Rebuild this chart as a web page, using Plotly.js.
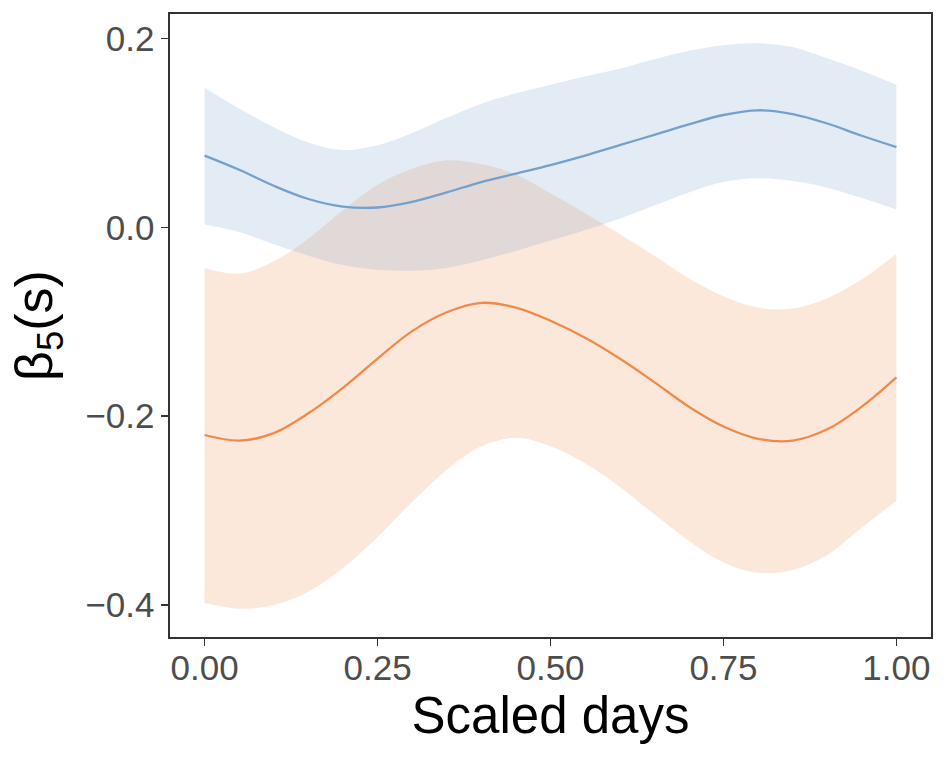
<!DOCTYPE html>
<html>
<head>
<meta charset="utf-8">
<script src="https://cdn.plot.ly/plotly-3.0.1.min.js"></script>
<style>html,body{margin:0;padding:0;background:#fff;}#chart{width:947px;height:757px;}</style>
</head>
<body>
<div id="chart"></div>
<script>
// Scaled days grid
var days = [0, 0.05, 0.1, 0.15, 0.2, 0.25, 0.3, 0.35, 0.4, 0.45, 0.5, 0.55, 0.6, 0.65, 0.7, 0.75, 0.8, 0.85, 0.9, 0.95, 1.0];

// Blue series: estimate and band
var blueMean  = [0.076, 0.061, 0.044, 0.030, 0.022, 0.021, 0.027, 0.037, 0.048, 0.057, 0.066, 0.076, 0.087, 0.098, 0.109, 0.119, 0.124, 0.120, 0.110, 0.097, 0.085];
var blueUpper = [0.148, 0.126, 0.106, 0.090, 0.082, 0.087, 0.100, 0.116, 0.131, 0.142, 0.151, 0.160, 0.168, 0.178, 0.187, 0.193, 0.195, 0.191, 0.179, 0.166, 0.151];
var blueLower = [0.003, -0.005, -0.018, -0.030, -0.040, -0.045, -0.046, -0.043, -0.035, -0.025, -0.014, -0.003, 0.009, 0.023, 0.037, 0.048, 0.052, 0.049, 0.042, 0.031, 0.019];

// Orange series: estimate and band
var orangeMean  = [-0.220, -0.226, -0.218, -0.197, -0.170, -0.139, -0.110, -0.090, -0.080, -0.085, -0.099, -0.117, -0.139, -0.164, -0.190, -0.211, -0.224, -0.226, -0.214, -0.190, -0.159];
var orangeUpper = [-0.043, -0.049, -0.036, -0.012, 0.018, 0.045, 0.062, 0.071, 0.067, 0.056, 0.036, 0.015, -0.007, -0.030, -0.054, -0.073, -0.085, -0.086, -0.075, -0.055, -0.028];
var orangeLower = [-0.398, -0.404, -0.400, -0.386, -0.361, -0.328, -0.291, -0.257, -0.232, -0.223, -0.232, -0.250, -0.275, -0.304, -0.332, -0.355, -0.366, -0.363, -0.347, -0.318, -0.290];

// Tick labels
var xTickVals = [0, 0.25, 0.5, 0.75, 1];
var xTickText = ["0.00", "0.25", "0.50", "0.75", "1.00"];
var yTickVals = [-0.4, -0.2, 0, 0.2];
var yTickText = ["\u22120.4", "\u22120.2", "0.0", "0.2"];

var blueLine = "rgb(116,160,204)";
var blueFill = "rgba(116,160,204,0.2)";
var orangeLine = "rgb(240,138,72)";
var orangeFill = "rgba(240,138,72,0.2)";

var noLine = {width: 0, shape: "spline", smoothing: 1};

var traces = [
  {x: days, y: orangeLower, mode: "lines", line: noLine, hoverinfo: "skip", showlegend: false},
  {x: days, y: orangeUpper, mode: "lines", line: noLine, fill: "tonexty", fillcolor: orangeFill, hoverinfo: "skip", showlegend: false},
  {x: days, y: blueLower, mode: "lines", line: noLine, hoverinfo: "skip", showlegend: false},
  {x: days, y: blueUpper, mode: "lines", line: noLine, fill: "tonexty", fillcolor: blueFill, hoverinfo: "skip", showlegend: false},
  {x: days, y: orangeMean, mode: "lines", line: {color: orangeLine, width: 2.3, shape: "spline", smoothing: 1}, showlegend: false},
  {x: days, y: blueMean, mode: "lines", line: {color: blueLine, width: 2.3, shape: "spline", smoothing: 1}, showlegend: false}
];

var fontFam = "Liberation Sans, Arial, Helvetica, sans-serif";

var axisCommon = {
  showgrid: false,
  zeroline: false,
  showline: true,
  mirror: true,
  linecolor: "#333333",
  linewidth: 1.6,
  ticks: "outside",
  ticklen: 7,
  tickwidth: 1.6,
  tickcolor: "#333333",
  tickfont: {family: fontFam, size: 35, color: "#4d4d4d"}
};

var layout = {
  width: 947,
  height: 757,
  margin: {l: 170, r: 16, t: 14, b: 120},
  paper_bgcolor: "#ffffff",
  plot_bgcolor: "#ffffff",
  showlegend: false,
  xaxis: Object.assign({}, axisCommon, {
    range: [-0.05, 1.05],
    tickmode: "array",
    tickvals: xTickVals,
    ticktext: xTickText,
    ticklabelstandoff: -8,
    title: {text: "Scaled days", font: {family: fontFam, size: 51, color: "#000000"}, standoff: 8}
  }),
  yaxis: Object.assign({}, axisCommon, {
    range: [-0.434, 0.226],
    tickmode: "array",
    tickvals: yTickVals,
    ticktext: yTickText,
    title: {text: "\u03b2<sub>5</sub>(s)", font: {family: fontFam, size: 52, color: "#000000"}, standoff: 16}
  })
};

Plotly.newPlot("chart", traces, layout, {displayModeBar: false, staticPlot: true});
</script>
</body>
</html>
